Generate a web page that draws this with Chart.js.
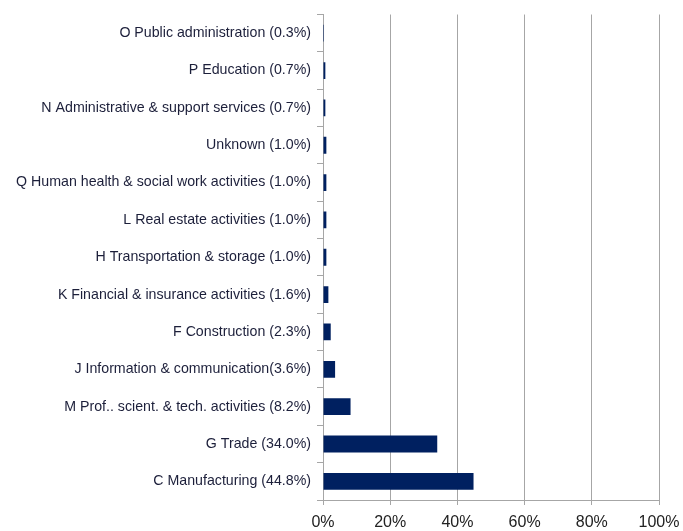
<!DOCTYPE html>
<html>
<head>
<meta charset="utf-8">
<script src="https://cdn.jsdelivr.net/npm/chart.js@4"></script>
<style>
  html, body { margin: 0; padding: 0; background: #fff; }
  #wrap { width: 683px; height: 531px; }
</style>
</head>
<body>
<div id="wrap"><canvas id="sectorChart" width="683" height="531"></canvas></div>
<script>
const sectors = [
  'O Public administration (0.3%)',
  'P Education (0.7%)',
  'N Administrative & support services (0.7%)',
  'Unknown (1.0%)',
  'Q Human health & social work activities (1.0%)',
  'L Real estate activities (1.0%)',
  'H Transportation & storage (1.0%)',
  'K Financial & insurance activities (1.6%)',
  'F Construction (2.3%)',
  'J Information & communication(3.6%)',
  'M Prof.. scient. & tech. activities (8.2%)',
  'G Trade (34.0%)',
  'C Manufacturing (44.8%)'
];
const shares = [0.3, 0.7, 0.7, 1.0, 1.0, 1.0, 1.0, 1.6, 2.3, 3.6, 8.2, 34.0, 44.8];
const xTicks = [0, 20, 40, 60, 80, 100];

const gridGray = '#a6a6a6';

new Chart('sectorChart', {
  type: 'bar',
  data: {
    labels: sectors,
    datasets: [{
      data: shares,
      backgroundColor: '#002060',
      borderWidth: 0,
      categoryPercentage: 0.5,
      barPercentage: 0.9
    }]
  },
  options: {
    indexAxis: 'y',
    responsive: false,
    animation: false,
    layout: { padding: { top: 13, right: 24, bottom: 0, left: 0 } },
    plugins: { legend: { display: false }, tooltip: { enabled: false } },
    scales: {
      x: {
        min: 0,
        max: 100,
        afterBuildTicks: (s) => { s.ticks = xTicks.map(v => ({ value: v })); },
        afterFit: (s) => { s.height = 31; s.paddingRight = 0; s.paddingLeft = 0; },
        ticks: {
          callback: (v) => v + '%',
          color: '#222',
          font: { family: 'Liberation Sans', size: 16 },
          padding: 8,
          maxRotation: 0
        },
        grid: { color: gridGray, lineWidth: 1, tickLength: 5 },
        border: { color: gridGray }
      },
      y: {
        afterFit: (s) => { s.width = 323; },
        ticks: {
          color: '#1c1f3a',
          font: { family: 'Liberation Sans', size: 14.2 },
          padding: 6
        },
        grid: { color: gridGray, drawOnChartArea: false, tickLength: 6, offset: true },
        border: { color: gridGray }
      }
    }
  }
});
</script>
</body>
</html>
